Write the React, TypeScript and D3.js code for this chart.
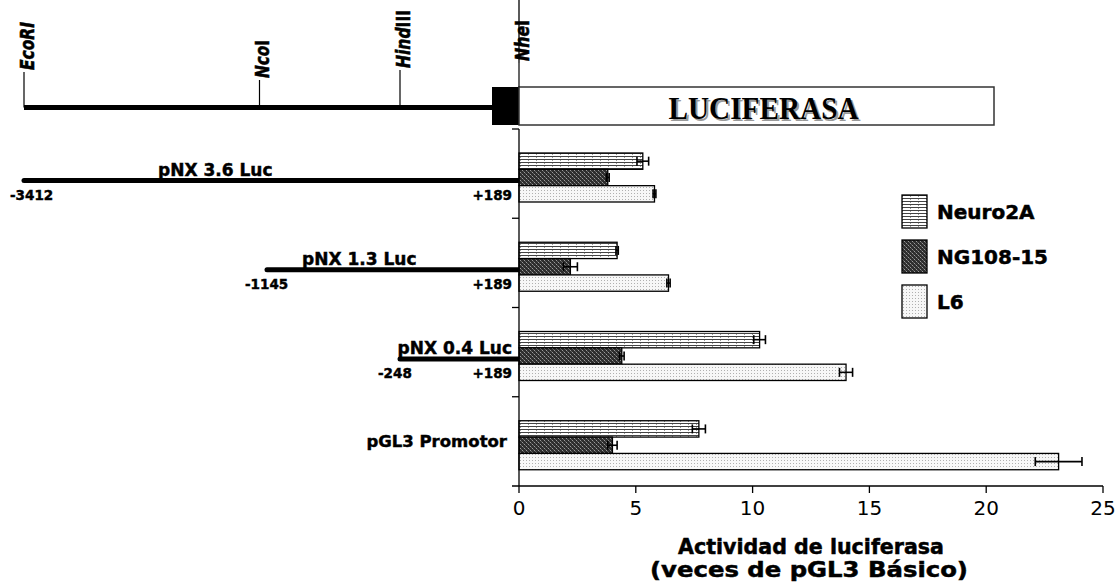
import React, { useEffect, useRef } from "react";
import * as d3 from "d3";

// cell lines and constructs
const cellLines = ["Neuro2A", "NG108-15", "L6"];
const constructs = ["pNX 3.6 Luc", "pNX 1.3 Luc", "pNX 0.4 Luc", "pGL3 Promotor"];

// luciferase activity (fold over pGL3 Basic)
const neuro2aValues = [5.3, 4.2, 10.3, 7.7];
const neuro2aErrors = [0.25, 0.05, 0.25, 0.28];
const ng108Values = [3.8, 2.2, 4.4, 4.0];
const ng108Errors = [0.06, 0.3, 0.1, 0.2];
const l6Values = [5.8, 6.4, 14.0, 23.1];
const l6Errors = [0.06, 0.07, 0.28, 1.0];

const xTicks = [0, 5, 10, 15, 20, 25];

// promoter fragments (bp, relative to transcription start)
const constructStarts = [-3412, -1145, -248];
const constructEnd = 189;

// restriction sites on the map
const siteItalic = ["EcoRI", "Nco", "Hind", "Nhe"];
const siteRoman = ["", "I", "III", "I"];
const sitePositions = [-3412, -1215, -248, 189];
const siteTickTops = [72, 80, 70, 63];
const siteLabelLengths = [48, 38, 58, 41];

const FONT = "'DejaVu Sans', Verdana, sans-serif";

const App = () => {
    const svgRef = useRef<SVGSVGElement>(null);

    useEffect(() => {
        const width = 1119;
        const height = 584;
        const svg = d3.select(svgRef.current).attr("width", width).attr("height", height);
        svg.selectAll("*").remove();

        const series = [
            { name: cellLines[0], values: neuro2aValues, errors: neuro2aErrors, fill: "url(#pat-neuro)" },
            { name: cellLines[1], values: ng108Values, errors: ng108Errors, fill: "url(#pat-ng)" },
            { name: cellLines[2], values: l6Values, errors: l6Errors, fill: "url(#pat-l6)" },
        ];

        // patterns
        const defs = svg.append("defs");
        const pn = defs.append("pattern").attr("id", "pat-neuro").attr("patternUnits", "userSpaceOnUse")
            .attr("width", 8).attr("height", 3);
        pn.append("rect").attr("width", 8).attr("height", 3).attr("fill", "#fff");
        pn.append("rect").attr("y", 0).attr("width", 8).attr("height", 1).attr("fill", "#444");
        pn.append("rect").attr("x", 0).attr("y", 1).attr("width", 1).attr("height", 1).attr("fill", "#999");

        const pg = defs.append("pattern").attr("id", "pat-ng").attr("patternUnits", "userSpaceOnUse")
            .attr("width", 4).attr("height", 4);
        pg.append("rect").attr("width", 4).attr("height", 4).attr("fill", "#2e2e2e");
        pg.append("rect").attr("x", 0).attr("y", 0).attr("width", 1).attr("height", 1).attr("fill", "#9a9a9a");
        pg.append("rect").attr("x", 2).attr("y", 2).attr("width", 1).attr("height", 1).attr("fill", "#9a9a9a");
        pg.append("rect").attr("x", 1).attr("y", 1).attr("width", 1).attr("height", 1).attr("fill", "#606060");
        pg.append("rect").attr("x", 3).attr("y", 3).attr("width", 1).attr("height", 1).attr("fill", "#606060");

        const pl = defs.append("pattern").attr("id", "pat-l6").attr("patternUnits", "userSpaceOnUse")
            .attr("width", 3).attr("height", 3);
        pl.append("rect").attr("width", 3).attr("height", 3).attr("fill", "#f7f7f7");
        pl.append("rect").attr("x", 1).attr("y", 1).attr("width", 1).attr("height", 1).attr("fill", "#b0b0b0");

        // scales
        const x = d3.scaleLinear().domain([0, 25]).range([519, 1103]);
        const y = d3.scaleBand().domain(constructs).range([129, 486]);
        const barOffset = 24;
        const yInner = d3.scaleBand().domain(cellLines).range([0, 49]);
        const bp = d3.scaleLinear().domain([-3412, -1145, -248, 189]).range([24, 267, 400, 519]);

        // ---- gene map at top ----
        const map = svg.append("g");
        const mapY = 107.5;
        const boxTop = 87;
        const boxBottom = 125;
        map.append("line")
            .attr("x1", bp(sitePositions[0])).attr("x2", bp(constructEnd) - 27)
            .attr("y1", mapY).attr("y2", mapY)
            .attr("stroke", "#000").attr("stroke-width", 5);
        map.append("rect")
            .attr("x", bp(constructEnd) - 27).attr("y", boxTop)
            .attr("width", 27).attr("height", boxBottom - boxTop).attr("fill", "#000");
        map.append("rect")
            .attr("x", bp(constructEnd)).attr("y", boxTop)
            .attr("width", 475).attr("height", boxBottom - boxTop)
            .attr("fill", "#fff").attr("stroke", "#333").attr("stroke-width", 1.5);
        const lucX = bp(constructEnd) + 475 / 2 + 7;
        const serif = "'Liberation Serif', 'Times New Roman', serif";
        map.append("text").attr("x", lucX + 2).attr("y", 119 + 2)
            .attr("text-anchor", "middle").attr("font-family", serif)
            .attr("font-weight", "bold").attr("font-size", 31).attr("textLength", 190)
            .attr("lengthAdjust", "spacingAndGlyphs").attr("fill", "#9a9a9a").text("LUCIFERASA");
        map.append("text").attr("x", lucX).attr("y", 119)
            .attr("text-anchor", "middle").attr("font-family", serif)
            .attr("font-weight", "bold").attr("font-size", 31).attr("textLength", 190)
            .attr("lengthAdjust", "spacingAndGlyphs").attr("fill", "#000").text("LUCIFERASA");

        sitePositions.forEach((pos, i) => {
            const sx = bp(pos);
            map.append("line")
                .attr("x1", sx).attr("x2", sx)
                .attr("y1", siteTickTops[i]).attr("y2", i === sitePositions.length - 1 ? boxTop : mapY)
                .attr("stroke", "#000").attr("stroke-width", 1.2);
            const t = map.append("text")
                .attr("transform", `translate(${sx + 10},${siteTickTops[i] - 2}) rotate(-90)`)
                .attr("font-family", FONT).attr("font-weight", "bold").attr("font-size", 20)
                .attr("stroke", "#000").attr("stroke-width", 0.6)
                .attr("textLength", siteLabelLengths[i]).attr("lengthAdjust", "spacingAndGlyphs");
            t.append("tspan").attr("font-style", "italic").text(siteItalic[i]);
            if (siteRoman[i]) t.append("tspan").text(siteRoman[i]);
        });

        // ---- construct lines on the left ----
        const left = svg.append("g").attr("font-family", FONT).attr("font-weight", "bold")
            .attr("stroke", "#000").attr("stroke-width", 0.45);
        constructStarts.forEach((start, i) => {
            const cat = constructs[i];
            const lineY = (y(cat) as number) + barOffset + (yInner(cellLines[1]) as number) + yInner.bandwidth() / 2 + 3;
            const lowY = (y(cat) as number) + barOffset + (yInner(cellLines[2]) as number) + yInner.bandwidth() / 2 + 1;
            left.append("line")
                .attr("x1", bp(start)).attr("x2", bp(constructEnd))
                .attr("y1", lineY).attr("y2", lineY)
                .attr("stroke", "#000").attr("stroke-width", 5).attr("stroke-linecap", "round");
            left.append("text")
                .attr("x", i === 2 ? bp(constructEnd) - 7 : bp(start) + (i === 0 ? 134 : 35))
                .attr("y", lineY - 5)
                .attr("text-anchor", i === 2 ? "end" : "start")
                .attr("font-size", 17).text(cat);
            left.append("text")
                .attr("x", bp(start) - (i === 0 ? 14 : 22)).attr("y", lowY)
                .attr("dy", "0.35em").attr("font-size", 13.5).text(String(start));
            left.append("text")
                .attr("x", bp(constructEnd) - 7).attr("y", lowY)
                .attr("dy", "0.35em").attr("text-anchor", "end").attr("font-size", 13.5).text("+" + constructEnd);
        });
        const lastCat = constructs[3];
        left.append("text")
            .attr("x", bp(constructEnd) - 12)
            .attr("y", (y(lastCat) as number) + barOffset + (yInner(cellLines[1]) as number) + yInner.bandwidth() / 2 - 4)
            .attr("dy", "0.35em").attr("text-anchor", "end").attr("font-size", 16.5).text(lastCat);

        // ---- bars ----
        const bars = svg.append("g");
        series.forEach((s) => {
            constructs.forEach((cat, j) => {
                const by = (y(cat) as number) + barOffset + (yInner(s.name) as number);
                const bh = yInner.bandwidth();
                bars.append("rect")
                    .attr("x", x(0)).attr("y", by)
                    .attr("width", x(s.values[j]) - x(0)).attr("height", bh)
                    .attr("fill", s.fill).attr("stroke", "#000").attr("stroke-width", 1.3);
                const cy = by + bh / 2;
                const lo = x(s.values[j] - s.errors[j]);
                const hi = x(s.values[j] + s.errors[j]);
                const eb = bars.append("g").attr("stroke", "#000").attr("stroke-width", 1.6);
                eb.append("line").attr("x1", lo).attr("x2", hi).attr("y1", cy).attr("y2", cy);
                eb.append("line").attr("x1", lo).attr("x2", lo).attr("y1", cy - 4.5).attr("y2", cy + 4.5);
                eb.append("line").attr("x1", hi).attr("x2", hi).attr("y1", cy - 4.5).attr("y2", cy + 4.5);
            });
        });

        // ---- axes ----
        const axes = svg.append("g").attr("stroke", "#000").attr("stroke-width", 1.3);
        axes.append("line").attr("x1", x(0)).attr("x2", x(0)).attr("y1", 0).attr("y2", siteTickTops[3]);
        axes.append("line").attr("x1", x(0)).attr("x2", x(0)).attr("y1", y(constructs[0]) as number).attr("y2", 486);
        axes.append("line").attr("x1", x(0) - 7).attr("x2", x(25)).attr("y1", 486).attr("y2", 486);
        constructs.forEach((c) => {
            const e = y(c) as number;
            axes.append("line").attr("x1", x(0) - 7).attr("x2", x(0)).attr("y1", e).attr("y2", e);
        });
        xTicks.forEach((t) => {
            axes.append("line").attr("x1", x(t)).attr("x2", x(t)).attr("y1", 486).attr("y2", 493);
        });
        svg.append("g").selectAll("text").data(xTicks).join("text")
            .attr("x", (d) => x(d)).attr("y", 508).attr("dy", "0.35em")
            .attr("text-anchor", "middle").attr("font-family", FONT).attr("font-size", 20)
            .text((d) => d);

        const axisMid = (x(0) + x(25)) / 2;
        svg.append("text").attr("x", axisMid).attr("y", 547).attr("dy", "0.35em")
            .attr("text-anchor", "middle").attr("font-family", FONT).attr("font-weight", "bold")
            .attr("stroke", "#000").attr("stroke-width", 0.5)
            .attr("font-size", 21).attr("textLength", 266).attr("lengthAdjust", "spacingAndGlyphs")
            .text("Actividad de luciferasa");
        svg.append("text").attr("x", axisMid - 2).attr("y", 570).attr("dy", "0.35em")
            .attr("text-anchor", "middle").attr("font-family", FONT).attr("font-weight", "bold")
            .attr("stroke", "#000").attr("stroke-width", 0.5)
            .attr("font-size", 21).attr("textLength", 318).attr("lengthAdjust", "spacingAndGlyphs")
            .text("(veces de pGL3 Básico)");

        // ---- legend ----
        const legend = svg.append("g").attr("transform", "translate(902,195)");
        series.forEach((s, i) => {
            legend.append("rect").attr("x", 0).attr("y", i * 45).attr("width", 25).attr("height", 33)
                .attr("fill", s.fill).attr("stroke", "#000").attr("stroke-width", 1.3);
            legend.append("text").attr("x", 35).attr("y", i * 45 + 17).attr("dy", "0.35em")
                .attr("font-family", FONT).attr("font-weight", "bold").attr("font-size", 20)
                .attr("stroke", "#000").attr("stroke-width", 0.5)
                .text(s.name);
        });
    }, []);

    return (
        <div style={{ position: "absolute", left: 0, top: 0 }}>
            <svg ref={svgRef} style={{ display: "block" }}></svg>
        </div>
    );
};

export default App;
